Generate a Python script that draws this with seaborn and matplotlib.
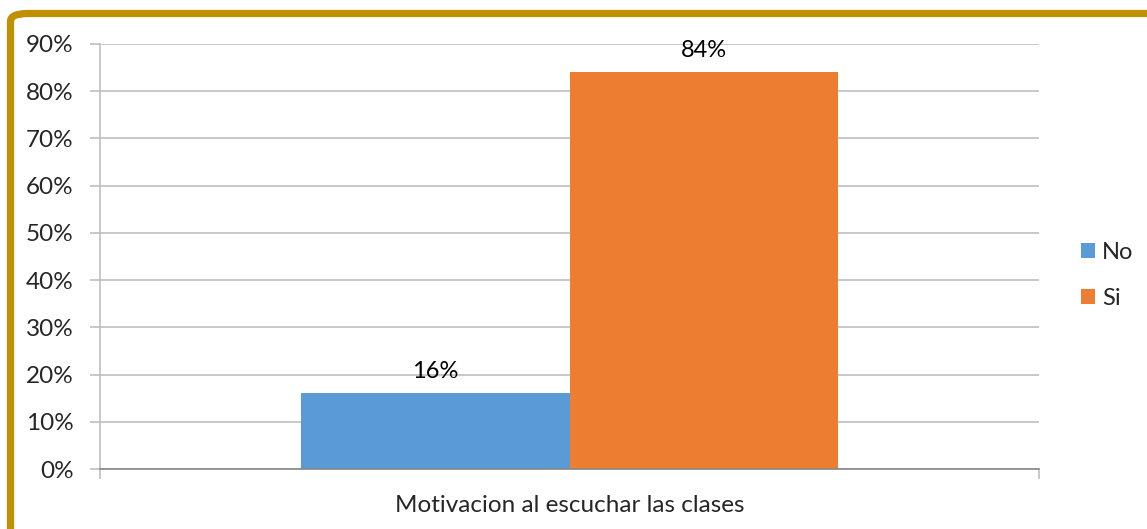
import pandas as pd
import seaborn as sns
import matplotlib.pyplot as plt
from matplotlib.patches import FancyBboxPatch
from matplotlib.ticker import FuncFormatter, FixedLocator

# data
categoria = ['Motivacion al escuchar las clases']
respuestas = ['No', 'Si']
porcentajes = [0.16, 0.84]
colores = ['#5B9BD5', '#ED7D31']

df = pd.DataFrame({'cat': categoria * len(respuestas), 'resp': respuestas, 'pct': porcentajes})

sns.set_style('white')
plt.rcParams['font.family'] = ['Lato', 'DejaVu Sans']

W, H = 1147, 529
fig = plt.figure(figsize=(W / 100, H / 100), dpi=100)
ax = fig.add_axes([100 / W, (H - 469) / H, 939 / W, 425 / H])

sns.barplot(data=df, x='cat', y='pct', hue='resp', palette=colores, width=0.572,
            saturation=1, linewidth=0, ax=ax, legend=True)

for cont in ax.containers:
    ax.bar_label(cont, labels=[f'{v*100:.0f}%' for v in cont.datavalues],
                 padding=8, fontsize=17, color='#000000')

ax.set_xlim(-0.5, 0.5)
ax.set_ylim(0, 0.9)
ax.yaxis.set_major_locator(FixedLocator([i / 10 for i in range(10)]))
ax.yaxis.set_major_formatter(FuncFormatter(lambda v, p: f'{v*100:.0f}%'))
ax.grid(axis='y', color='#BFBFBF', linewidth=1.2)
ax.set_axisbelow(True)
ax.tick_params(axis='y', which='major', length=7, color='#BFBFBF', width=1.2,
               labelsize=17.5, left=True, pad=12)
ax.set_xticks([0])
ax.set_xticklabels(categoria, fontsize=17.5)
ax.xaxis.set_minor_locator(FixedLocator([-0.5, 0.5]))
ax.tick_params(axis='x', which='major', length=0, pad=19)
ax.tick_params(axis='x', which='minor', length=7, color='#BFBFBF', width=1.2, bottom=True)
ax.set_xlabel('')
ax.set_ylabel('')
for s in ['top', 'right']:
    ax.spines[s].set_visible(False)
ax.spines['left'].set_color('#BFBFBF')
ax.spines['left'].set_linewidth(1.2)
ax.spines['bottom'].set_color('#868686')
ax.spines['bottom'].set_linewidth(1.2)

leg = ax.legend(loc='center left', bbox_to_anchor=(1.022, 0.456), frameon=False,
                fontsize=17, handlelength=0.6, handleheight=0.6, handletextpad=0.3,
                labelspacing=1.05)

# gold frame: a rounded box whose right and bottom sides fall outside the figure
frame = FancyBboxPatch((10.5 / W, -0.5), 1.5, 1.5 - 13.5 / H,
                       boxstyle='round,pad=0,rounding_size=0.015',
                       transform=fig.transFigure, fill=False,
                       edgecolor='#BF9000', linewidth=5.2)
fig.patches.append(frame)

plt.savefig('out.png', dpi=100)
